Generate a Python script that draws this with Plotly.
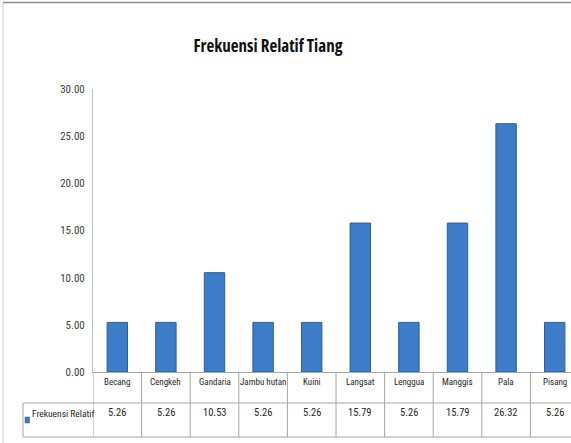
import plotly.graph_objects as go

categories = ["Becang", "Cengkeh", "Gandaria", "Jambu hutan", "Kuini",
              "Langsat", "Lenggua", "Manggis", "Pala", "Pisang"]
values = [5.26, 5.26, 10.53, 5.26, 5.26, 15.79, 5.26, 15.79, 26.32, 5.26]
series_name = "Frekuensi Relatif"
title_text = "Frekuensi Relatif Tiang"
y_ticks = [0, 5, 10, 15, 20, 25, 30]

W, H = 571, 443
L, R, T, B = 93, 0, 89, 71
pw, ph = W - L - R, H - T - B

def px_x(p):
    return (p - L) / pw

def px_y(p):
    return (H - B - p) / ph

def cond(s):
    return f'<span style="font-stretch:condensed">{s}</span>'

FONT = "Roboto Condensed, Open Sans, sans-serif"
TFONT = "Open Sans, Roboto Condensed, sans-serif"
LINE = "#a6a6a6"
TXT = "#262626"
BAR = "#3d7cc9"
BAR_EDGE = "#2d5f9e"

x_idx = list(range(len(categories)))

fig = go.Figure()
fig.add_trace(go.Bar(
    x=x_idx, y=values, name=series_name,
    marker=dict(color=BAR, line=dict(color=BAR_EDGE, width=1)),
    width=0.42,
))

shapes = []
for py in (403, 437):
    shapes.append(dict(type="line", xref="paper", yref="paper",
                       x0=px_x(23), x1=1, y0=px_y(py), y1=px_y(py),
                       line=dict(color=LINE, width=1)))
shapes.append(dict(type="line", xref="paper", yref="paper",
                   x0=px_x(23), x1=px_x(23), y0=px_y(403), y1=px_y(437),
                   line=dict(color=LINE, width=1)))
for i in x_idx:
    shapes.append(dict(type="line", xref="x", yref="paper",
                       x0=i - 0.5, x1=i - 0.5, y0=px_y(372), y1=px_y(437),
                       line=dict(color=LINE, width=1)))
shapes.append(dict(type="rect", xref="paper", yref="paper",
                   x0=px_x(25), x1=px_x(29.5), y0=px_y(417), y1=px_y(423),
                   fillcolor=BAR, line=dict(color=BAR_EDGE, width=0.5)))
shapes.append(dict(type="line", xref="paper", yref="paper",
                   x0=px_x(3), x1=px_x(W), y0=px_y(2.5), y1=px_y(2.5),
                   line=dict(color="#8a8a8a", width=1.5)))
shapes.append(dict(type="line", xref="paper", yref="paper",
                   x0=px_x(3), x1=px_x(3), y0=px_y(2.5), y1=px_y(H),
                   line=dict(color="#cfcfcf", width=1)))

annotations = []
for i, (c, v) in enumerate(zip(categories, values)):
    annotations.append(dict(x=i, y=px_y(389), xref="x", yref="paper",
                            text=c, showarrow=False,
                            font=dict(family=FONT, size=9, color=TXT)))
    annotations.append(dict(x=i, y=px_y(421), xref="x", yref="paper",
                            text=f"{v:.2f}", showarrow=False,
                            font=dict(family=FONT, size=10.5, color=TXT)))
annotations.append(dict(x=px_x(29.5), y=px_y(421), xref="paper", yref="paper",
                        text=series_name, showarrow=False, xanchor="left",
                        font=dict(family=FONT, size=9.5, color=TXT)))

fig.update_layout(
    width=W, height=H,
    margin=dict(l=L, r=R, t=T, b=B),
    paper_bgcolor="white", plot_bgcolor="white",
    showlegend=False,
    title=dict(text=cond(f"<b>{title_text}</b>"), x=268 / W, xanchor="center",
               y=1 - 46 / H, yanchor="middle",
               font=dict(family=TFONT, size=17, color="#111111")),
    xaxis=dict(range=[-0.5, -0.5 + pw / 48.6], showticklabels=False,
               showgrid=False, zeroline=False, showline=True,
               linecolor=LINE, linewidth=1, ticks=""),
    yaxis=dict(range=[0, 30], tickvals=y_ticks,
               ticktext=[f"{t:.2f}" for t in y_ticks],
               ticklabelstandoff=5,
               showgrid=False, zeroline=False, showline=True,
               linecolor="#bfbfbf", linewidth=1, ticks="",
               tickfont=dict(family=FONT, size=11, color="#404040")),
    shapes=shapes, annotations=annotations,
)

fig.write_html("out.html", config={"displayModeBar": False},
               post_script="document.body.style.margin='0';")
